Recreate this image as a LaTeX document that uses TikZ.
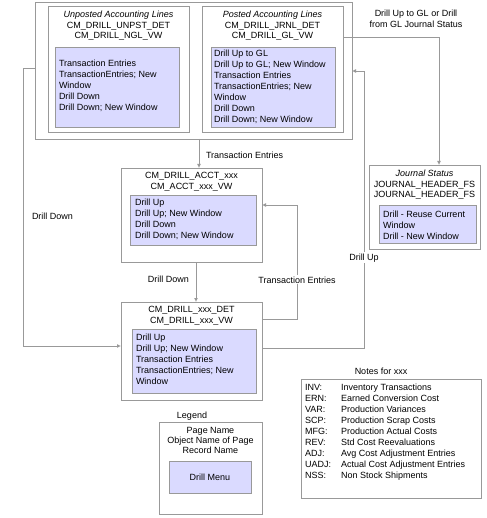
\documentclass[tikz,border=0pt]{standalone}
\usepackage{fontspec}
\setmainfont{Liberation Sans}
\usetikzlibrary{arrows.meta}
\definecolor{lc}{RGB}{153,153,153}
\definecolor{mf}{RGB}{218,218,255}
\begin{document}
\begin{tikzpicture}[x=1pt,y=-1pt,
 every node/.style={font=\fontsize{9}{11}\selectfont, inner sep=0pt, outer sep=0pt},
 box/.style={draw=lc, line width=0.9pt, anchor=north west, fill=white},
 menu/.style={draw=lc, line width=0.9pt, anchor=north west, fill=mf},
 conn/.style={draw=lc, line width=0.9pt},
 arr/.style={conn, -{Latex[length=4pt,width=4pt]}},
 title/.style={align=center, anchor=north, yshift=6.6pt, font=\fontsize{9}{10.5}\selectfont},
 mtext/.style={align=left, anchor=north west, yshift=6.6pt},
 lbl/.style={anchor=base},
 onl/.style={anchor=base, fill=white, inner sep=1pt},
]
\useasboundingbox (0,0) rectangle (486,518);

% boxes
\node[box, minimum width=317pt, minimum height=137pt] (grp) at (35,2) {};
\node[box, minimum width=141pt, minimum height=126pt] (unposted) at (48,6) {};
\node[menu, minimum width=124pt, minimum height=80pt] (um) at (55,47) {};
\node[box, minimum width=141pt, minimum height=126pt] (posted) at (202,6) {};
\node[menu, minimum width=124pt, minimum height=80pt] (pm) at (211,47.5) {};
\node[box, minimum width=141pt, minimum height=94pt] (acct) at (121,168) {};
\node[menu, minimum width=126pt, minimum height=50pt] (am) at (130,195) {};
\node[box, minimum width=141pt, minimum height=98pt] (det) at (121,302) {};
\node[menu, minimum width=124pt, minimum height=64pt] (dm) at (132,329) {};
\node[box, minimum width=111pt, minimum height=84pt] (journal) at (369,165) {};
\node[menu, minimum width=97pt, minimum height=38pt] (jm) at (379,205) {};
\node[box, minimum width=103pt, minimum height=92pt] (legend) at (159,422) {};
\node[menu, minimum width=82pt, minimum height=32pt] (lm) at (169,461) {};
\node[box, minimum width=180pt, minimum height=119pt] (notes) at (301,379) {};

% texts
\node[title] (tu) at (118.5,18) {{\itshape Unposted Accounting Lines}\\CM\_DRILL\_UNPST\_DET\\CM\_DRILL\_NGL\_VW};
\node[mtext] (tum) at (59,67) {Transaction Entries\\TransactionEntries; New\\Window\\Drill Down\\Drill Down; New Window};
\node[title] (tp) at (272.5,18) {{\itshape Posted Accounting Lines}\\CM\_DRILL\_JRNL\_DET\\CM\_DRILL\_GL\_VW};
\node[mtext] (tpm) at (214,57) {Drill Up to GL\\Drill Up to GL; New Window\\Transaction Entries\\TransactionEntries; New\\Window\\Drill Down\\Drill Down; New Window};
\node[title] (ta) at (191.5,179) {CM\_DRILL\_ACCT\_xxx\\CM\_ACCT\_xxx\_VW};
\node[mtext] (tam) at (135,206) {Drill Up\\Drill Up; New Window\\Drill Down\\Drill Down; New Window};
\node[title] (td) at (191.5,313) {CM\_DRILL\_xxx\_DET\\CM\_DRILL\_xxx\_VW};
\node[mtext] (tdm) at (136,341) {Drill Up\\Drill Up; New Window\\Transaction Entries\\TransactionEntries; New\\Window};
\node[title] (tj) at (424.5,177) {{\itshape Journal Status}\\JOURNAL\_HEADER\_FS\\JOURNAL\_HEADER\_FS};
\node[mtext] (tjm) at (383,218) {Drill - Reuse Current\\Window\\Drill - New Window};
\node[lbl] (tlg) at (192,418) {Legend};
\node[title, font=\fontsize{9}{10}\selectfont] (tl) at (210.5,434) {Page Name\\Object Name of Page\\Record Name};
\node[lbl] (tlm) at (210,480) {Drill Menu};
\node[lbl] (tn) at (381,374) {Notes for xxx};
\node[mtext] (tnk) at (305,391) {INV:\\ERN:\\VAR:\\SCP:\\MFG:\\REV:\\ADJ:\\UADJ:\\NSS:};
\node[mtext] (tnv) at (341,391) {Inventory Transactions\\Earned Conversion Cost\\Production Variances\\Production Scrap Costs\\Production Actual Costs\\Std Cost Reevaluations\\Avg Cost Adjustment Entries\\Actual Cost Adjustment Entries\\Non Stock Shipments};

% connectors
\coordinate (x1) at (199,0);
\draw[arr] (grp.south -| x1) -- (acct.north -| x1);
\node[lbl, anchor=base west] (l1) at (206,159) {Transaction Entries};

\coordinate (x2) at (196,0);
\draw[arr] (acct.south -| x2) -- (det.north -| x2);
\node[lbl, anchor=base east] (l2) at (189,282) {Drill Down};

\coordinate (y3) at (0,68);
\coordinate (y4) at (0,346);
\draw[arr] (grp.west |- y3) -- ++(-12,0) |- (det.west |- y4);
\node[lbl, anchor=base west] (l3) at (32,219) {Drill Down};

\coordinate (y5) at (0,319);
\coordinate (y6) at (0,205);
\draw[arr] (det.east |- y5) -- ++(35,0) |- (acct.east |- y6);
\node[onl] (l4) at (297,283) {Transaction Entries};

\coordinate (y7) at (0,348);
\coordinate (y8) at (0,71);
\draw[arr] (det.east |- y7) -- ++(102,0) |- (grp.east |- y8);
\node[onl] (l5) at (364,260) {Drill Up};

\coordinate (y9) at (0,37);
\coordinate (x10) at (439,0);
\draw[arr] (posted.east |- y9) -| (journal.north -| x10);
\node[title, font=\fontsize{9}{11}\selectfont] (l6) at (416,17) {Drill Up to GL or Drill\\from GL Journal Status};
\end{tikzpicture}
\end{document}
